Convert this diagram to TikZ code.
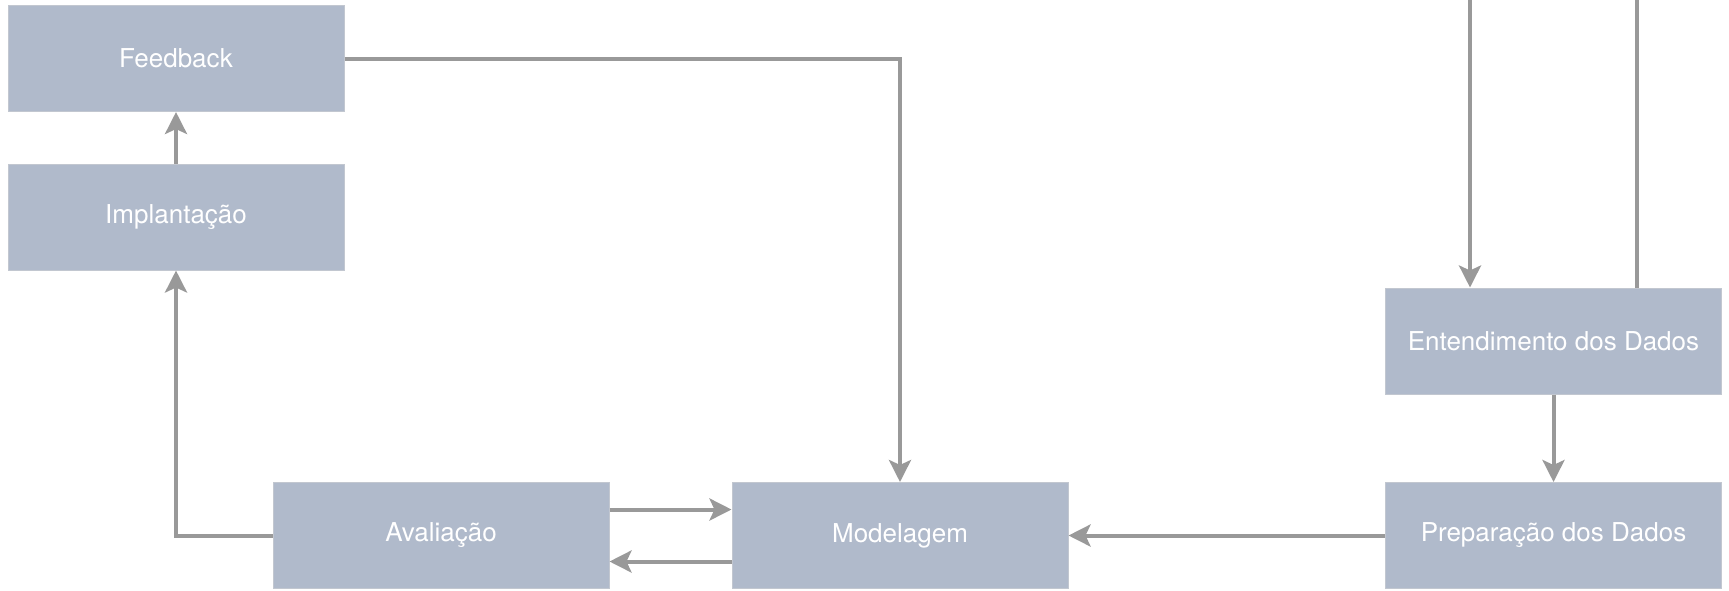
\documentclass[tikz,border=0pt]{standalone}
\usepackage{fontspec}
\setmainfont{TeX Gyre Heros}
\usetikzlibrary{arrows.meta,calc}

\definecolor{boxfill}{HTML}{B0BACB}
\definecolor{boxline}{HTML}{C2C7D0}
\definecolor{linkgray}{HTML}{999999}

\tikzset{
  stagebox/.style={draw=boxline, line width=0.5pt, fill=boxfill, text=white,
    minimum width=168pt, minimum height=53pt, inner sep=0pt,
    font=\fontsize{13pt}{15pt}\selectfont},
  link/.style={draw=linkgray, line width=2pt},
  linkarrow/.style={link, -{Stealth[length=11pt,width=11pt,inset=2.5pt]}}
}

\begin{document}
\begin{tikzpicture}[x=0.5pt,y=-0.5pt]
%set diagram to the reference frame
\useasboundingbox (0,0) rectangle (1729,590);

%Boxes
\node[stagebox] (feedback) at (176,58.5) {Feedback};
\node[stagebox] (implant) at (176,217) {Implantação};
\node[stagebox] (entend) at (1553.5,341) {Entendimento dos Dados};
\node[stagebox] (prep) at (1553.5,535.5) {Preparação dos Dados};
\node[stagebox] (aval) at (441,535.5) {Avaliação};
\node[stagebox] (model) at (900,535.5) {Modelagem};

%Free ends at the top edge
\coordinate (topin) at (1470,0);
\coordinate (topout) at (1637,0);

%Connectors
\draw[linkarrow] (implant) -- (feedback);
\draw[linkarrow] (aval.west) -| (implant.south);
\draw[linkarrow] (feedback.east) -| (model.north);
\draw[linkarrow] ([yshift=13pt]aval.east) -- ([yshift=13pt]model.west);
\draw[linkarrow] ([yshift=-13pt]model.west) -- ([yshift=-13pt]aval.east);
\draw[linkarrow] (prep) -- (model);
\draw[linkarrow] (entend) -- (prep);
\draw[linkarrow] (topin) -- (topin |- entend.north);
\draw[link] (topout |- entend.north) -- (topout);

\end{tikzpicture}
\end{document}
